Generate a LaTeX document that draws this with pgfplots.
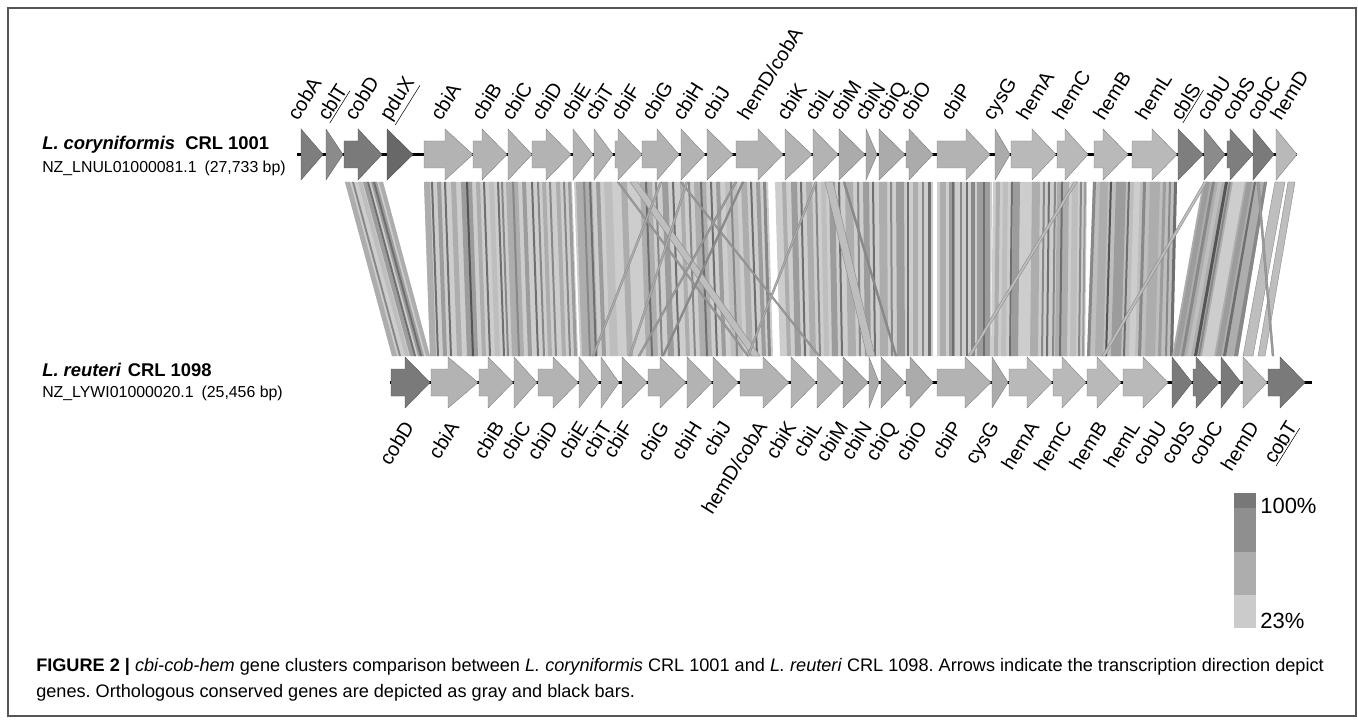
\documentclass[border=0pt]{standalone}
\usepackage{pgfplots}
\pgfplotsset{compat=1.18}
\usepackage{fontspec}
\setmainfont{Liberation Sans}
\frenchspacing

% arrow shades
\definecolor{dA}{HTML}{7E7E7E}
\definecolor{dB}{HTML}{8B8B8B}
\definecolor{dC}{HTML}{7A7A7A}
\definecolor{dD}{HTML}{686868}
\definecolor{lA}{HTML}{B3B3B3}
\definecolor{lB}{HTML}{ABABAB}
\definecolor{lC}{HTML}{B9B9B9}
% similarity band shades
\definecolor{b1}{HTML}{CDCDCD}
\definecolor{b2}{HTML}{BEBEBE}
\definecolor{b3}{HTML}{ADADAD}
\definecolor{b4}{HTML}{9C9C9C}
\definecolor{b5}{HTML}{888888}
\definecolor{b6}{HTML}{6F6F6F}
\definecolor{b7}{HTML}{555555}
% legend shades
\definecolor{s1}{HTML}{787878}
\definecolor{s2}{HTML}{8F8F8F}
\definecolor{s3}{HTML}{ADADAD}
\definecolor{s4}{HTML}{CBCBCB}
\definecolor{fr}{HTML}{555555}

% gene arrows: start, head start, tip, colour
\newcommand{\tgene}[4]{\addplot[fill=#4, draw=#4!70!black, line width=0.3pt] coordinates {(#1,141) (#2,141) (#2,129) (#3,154.5) (#2,180) (#2,168) (#1,168)} --cycle;}
\newcommand{\bgene}[4]{\addplot[fill=#4, draw=#4!70!black, line width=0.3pt] coordinates {(#1,369) (#2,369) (#2,357) (#3,382.5) (#2,408) (#2,396) (#1,396)} --cycle;}
% similarity stripes: top left, top right, bottom left, bottom right, colour
\newcommand{\bd}[5]{\addplot[fill=#5, draw=none] coordinates {(#1,182) (#2,182) (#4,356) (#3,356)} --cycle;}
\newcommand{\bx}[5]{\addplot[fill=#5, draw=b5, line width=0.3pt] coordinates {(#1,182) (#2,182) (#4,356) (#3,356)} --cycle;}
% gene names
\newcommand{\glab}{\fontsize{15}{16}\selectfont}
\newcommand{\tlab}[2]{\node[rotate=58, anchor=base west, inner sep=0pt, font=\glab] at (axis cs:#1,122) {#2};}
\newcommand{\blab}[2]{\node[rotate=58, anchor=base east, inner sep=0pt, font=\glab] at (axis cs:#1,427) {#2};}

\begin{document}
\begin{tikzpicture}
\begin{axis}[
  x=0.75pt, y=0.75pt, y dir=reverse,
  xmin=0, xmax=1358, ymin=0, ymax=720,
  enlargelimits=false, hide axis, clip=false]

\addplot[draw=none] coordinates {(0,0) (1358,720)};
% frame
\addplot[draw=fr, line width=1.5pt] coordinates {(8,8) (1356,8) (1356,716) (8,716)} --cycle;

% ---- similarity band ----
% cobD
\bd{345}{383}{392}{430}{b1}
\bd{345}{350}{392}{397}{b3}
\bd{352}{354}{399}{401}{b5}
\bd{358}{362}{405}{409}{b2}
\bd{363}{367}{410}{414}{b4}
\bd{367}{369}{414}{416}{b6}
\bd{371}{377}{418}{424}{b4}
\bd{373}{375}{420}{422}{b6}
\bd{379}{383}{426}{430}{b3}
% cbiA - hemD/cobA
\bd{424}{572}{430}{578}{b1}
\bd{574}{768}{580}{773}{b1}
\bd{424}{430}{430}{436}{b3}
\bd{431}{433}{437}{439}{b6}
\bd{437}{441}{443}{447}{b4}
\bd{444}{446}{450}{452}{b6}
\bd{451}{456}{457}{462}{b3}
\bd{461}{472}{467}{478}{b4}
\bd{466}{468}{472}{474}{b7}
\bd{476}{480}{482}{486}{b3}
\bd{483}{485}{489}{491}{b6}
\bd{489}{494}{495}{500}{b2}
\bd{497}{499}{503}{505}{b6}
\bd{501}{503}{507}{509}{b5}
\bd{506}{518}{512}{524}{b3}
\bd{512}{514}{518}{520}{b5}
\bd{522}{526}{528}{532}{b4}
\bd{531}{533}{537}{539}{b6}
\bd{537}{539}{543}{545}{b5}
\bd{542}{546}{548}{552}{b3}
\bd{549}{551}{555}{557}{b5}
\bd{556}{560}{562}{566}{b3}
\bd{563}{565}{569}{571}{b5}
\bd{568}{571}{574}{577}{b4}
\bd{576}{592}{582}{598}{b3}
\bd{583}{585}{589}{591}{b5}
\bd{589}{591}{595}{597}{b6}
\bd{596}{600}{602}{606}{b4}
\bd{604}{612}{610}{618}{b2}
\bd{621}{627}{627}{633}{b3}
\bd{640}{652}{646}{658}{b3}
\bd{645}{647}{651}{653}{b6}
\bd{655}{657}{661}{663}{b5}
\bd{662}{668}{668}{674}{b4}
\bd{672}{674}{678}{680}{b6}
\bd{680}{684}{686}{690}{b3}
\bd{688}{690}{694}{696}{b5}
\bd{694}{706}{700}{712}{b3}
\bd{700}{702}{706}{708}{b6}
\bd{710}{712}{716}{718}{b6}
\bd{716}{720}{722}{726}{b4}
\bd{725}{737}{731}{743}{b2}
\bd{730}{732}{736}{738}{b5}
\bd{741}{747}{747}{753}{b3}
\bd{750}{752}{756}{758}{b6}
\bd{756}{760}{762}{766}{b4}
\bd{763}{766}{768}{771}{b5}
% cbiK - cbiO
\bd{775}{933}{780}{933}{b1}
\bd{782}{786}{787}{791}{b3}
\bd{791}{797}{795}{801}{b4}
\bd{800}{802}{804}{806}{b6}
\bd{806}{812}{810}{816}{b3}
\bd{815}{817}{819}{821}{b5}
\bd{821}{826}{824}{829}{b2}
\bd{829}{835}{832}{838}{b4}
\bd{838}{840}{841}{843}{b6}
\bd{845}{853}{848}{856}{b3}
\bd{857}{859}{859}{861}{b5}
\bd{863}{869}{865}{871}{b4}
\bd{872}{874}{874}{876}{b6}
\bd{879}{887}{880}{888}{b3}
\bd{890}{892}{891}{893}{b5}
\bd{896}{904}{897}{905}{b4}
\bd{907}{909}{907}{909}{b6}
\bd{913}{918}{913}{918}{b3}
\bd{922}{924}{922}{924}{b5}
\bd{928}{931}{928}{931}{b6}
% cbiP
\bd{937}{992}{937}{991}{b1}
\bd{940}{946}{940}{946}{b3}
\bd{949}{955}{949}{955}{b4}
\bd{952}{954}{952}{954}{b6}
\bd{960}{962}{960}{962}{b5}
\bd{966}{968}{966}{968}{b6}
\bd{971}{975}{971}{975}{b5}
\bd{977}{990}{977}{990}{b4}
\bd{983}{985}{983}{985}{b6}
% cysG - hemC
\bd{993}{1087}{991}{1085}{b1}
\bd{996}{1000}{994}{998}{b3}
\bd{1003}{1008}{1001}{1006}{b2}
\bd{1011}{1013}{1009}{1011}{b6}
\bd{1013}{1020}{1011}{1018}{b4}
\bd{1032}{1040}{1030}{1038}{b3}
\bd{1043}{1045}{1041}{1043}{b5}
\bd{1048}{1050}{1046}{1048}{b6}
\bd{1054}{1056}{1052}{1054}{b5}
\bd{1057}{1069}{1055}{1067}{b3}
\bd{1061}{1063}{1059}{1061}{b6}
\bd{1072}{1078}{1070}{1076}{b2}
\bd{1080}{1082}{1078}{1080}{b5}
\bd{1084}{1086}{1082}{1084}{b4}
% hemB - hemL
\bd{1093}{1177}{1087}{1173}{b2}
\bd{1093}{1096}{1087}{1090}{b5}
\bd{1100}{1108}{1095}{1103}{b3}
\bd{1110}{1112}{1105}{1107}{b7}
\bd{1116}{1126}{1111}{1121}{b4}
\bd{1128}{1130}{1123}{1125}{b6}
\bd{1134}{1140}{1129}{1135}{b1}
\bd{1143}{1146}{1138}{1141}{b5}
\bd{1150}{1160}{1145}{1155}{b3}
\bd{1163}{1166}{1158}{1161}{b4}
\bd{1169}{1171}{1165}{1167}{b5}
\bd{1174}{1177}{1170}{1173}{b6}
% cobU - cobC
\bd{1203}{1267}{1172}{1238}{b3}
\bd{1205}{1210}{1174}{1179}{b4}
\bd{1212}{1215}{1181}{1184}{b5}
\bd{1218}{1222}{1187}{1191}{b2}
\bd{1225}{1228}{1194}{1197}{b7}
\bd{1229}{1231}{1198}{1200}{b5}
\bd{1233}{1245}{1202}{1214}{b1}
\bd{1247}{1252}{1216}{1221}{b4}
\bd{1254}{1256}{1223}{1226}{b6}
\bd{1258}{1262}{1228}{1232}{b3}
\bd{1264}{1267}{1234}{1238}{b5}
% hemD
\bx{1275}{1285}{1243}{1253}{b2}
\bx{1288}{1295}{1258}{1265}{b2}
% rearranged matches
\bx{617}{619}{747}{749}{b4}
\bx{630}{638}{752}{760}{b2}
\bx{680}{682}{818}{820}{b4}
\bx{742}{744}{662}{664}{b5}
\bx{735}{737}{638}{640}{b4}
\bx{686}{688}{629}{631}{b3}
\bx{660}{662}{592}{594}{b3}
\bx{815}{817}{747}{749}{b3}
\bx{825}{833}{867}{875}{b2}
\bx{843}{845}{895}{897}{b5}
\bx{1074}{1077}{968}{971}{b2}
\bx{1204}{1207}{1102}{1105}{b2}
\bx{1257}{1259}{1272}{1274}{b4}

% ---- backbones ----
\addplot[black, line width=1.6pt] coordinates {(297,154.5) (1297,154.5)};
\addplot[black, line width=1.6pt] coordinates {(390,382.5) (1312,382.5)};

% ---- L. coryniformis CRL 1001 ----
\tgene{301}{301}{323}{dA}
\tgene{326}{326}{343}{dB}
\tgene{344}{358}{382}{dC}
\tgene{387}{387}{413}{dD}
\tgene{424}{445}{473}{lA}
\tgene{473}{482}{507}{lA}
\tgene{508}{508}{532}{lA}
\tgene{532}{546}{571}{lA}
\tgene{573}{573}{593}{lA}
\tgene{594}{594}{613}{lA}
\tgene{615}{618}{642}{lA}
\tgene{642}{657}{679}{lA}
\tgene{681}{681}{705}{lA}
\tgene{707}{707}{733}{lA}
\tgene{736}{758}{783}{lA}
\tgene{785}{785}{812}{lA}
\tgene{813}{813}{838}{lA}
\tgene{839}{839}{865}{lB}
\tgene{866}{866}{877}{lB}
\tgene{879}{879}{905}{lB}
\tgene{906}{909}{933}{lB}
\tgene{937}{966}{990}{lA}
\tgene{995}{995}{1010}{lB}
\tgene{1011}{1032}{1056}{lC}
\tgene{1057}{1065}{1088}{lC}
\tgene{1094}{1103}{1128}{lC}
\tgene{1132}{1152}{1177}{lC}
\tgene{1178}{1178}{1203}{dA}
\tgene{1204}{1204}{1225}{dB}
\tgene{1227}{1230}{1253}{dA}
\tgene{1253}{1253}{1274}{dC}
\tgene{1276}{1276}{1297}{lC}

% ---- L. reuteri CRL 1098 ----
\bgene{391}{405}{430}{dC}
\bgene{431}{448}{478}{lA}
\bgene{479}{488}{513}{lA}
\bgene{514}{514}{537}{lA}
\bgene{538}{553}{578}{lA}
\bgene{579}{579}{599}{lA}
\bgene{601}{601}{619}{lA}
\bgene{622}{622}{647}{lA}
\bgene{648}{660}{686}{lA}
\bgene{687}{687}{712}{lA}
\bgene{713}{713}{738}{lA}
\bgene{740}{763}{789}{lA}
\bgene{791}{791}{816}{lA}
\bgene{817}{817}{842}{lA}
\bgene{843}{843}{868}{lB}
\bgene{869}{869}{879}{lB}
\bgene{881}{881}{905}{lB}
\bgene{906}{910}{933}{lB}
\bgene{937}{965}{991}{lA}
\bgene{992}{992}{1008}{lB}
\bgene{1009}{1027}{1052}{lC}
\bgene{1053}{1062}{1086}{lC}
\bgene{1087}{1097}{1121}{lC}
\bgene{1123}{1143}{1168}{lC}
\bgene{1172}{1172}{1192}{dC}
\bgene{1193}{1196}{1219}{dA}
\bgene{1221}{1221}{1241}{dC}
\bgene{1243}{1243}{1267}{lC}
\bgene{1268}{1280}{1305}{dC}

% ---- gene names ----
\tlab{298}{cobA}
\tlab{328}{\underline{cblT}}
\tlab{355}{cobD}
\tlab{390}{\underline{pduX}}
\tlab{441}{cbiA}
\tlab{482}{cbiB}
\tlab{512}{cbiC}
\tlab{542}{cbiD}
\tlab{571}{cbiE}
\tlab{595}{cbiT}
\tlab{621}{cbiF}
\tlab{652}{cbiG}
\tlab{683}{cbiH}
\tlab{712}{cbiJ}
\tlab{748}{hemD/cobA}
\tlab{787}{cbiK}
\tlab{815}{cbiL}
\tlab{840}{cbiM}
\tlab{865}{cbiN}
\tlab{886}{cbiQ}
\tlab{910}{cbiO}
\tlab{951}{cbiP}
\tlab{993}{cysG}
\tlab{1027}{hemA}
\tlab{1063}{hemC}
\tlab{1104}{hemB}
\tlab{1146}{hemL}
\tlab{1181}{\underline{cblS}}
\tlab{1207}{cobU}
\tlab{1232}{cobS}
\tlab{1257}{cobC}
\tlab{1281}{hemD}

\blab{415}{cobD}
\blab{460}{cbiA}
\blab{505}{cbiB}
\blab{532}{cbiC}
\blab{559}{cbiD}
\blab{589}{cbiE}
\blab{613}{cbiT}
\blab{634}{cbiF}
\blab{670}{cbiG}
\blab{703}{cbiH}
\blab{732}{cbiJ}
\blab{768}{hemD/cobA}
\blab{797}{cbiK}
\blab{823}{cbiL}
\blab{849}{cbiM}
\blab{873}{cbiN}
\blab{898}{cbiQ}
\blab{928}{cbiO}
\blab{963}{cbiP}
\blab{1000}{cysG}
\blab{1040}{hemA}
\blab{1073}{hemC}
\blab{1108}{hemB}
\blab{1141}{hemL}
\blab{1168}{cobU}
\blab{1196}{cobS}
\blab{1224}{cobC}
\blab{1260}{hemD}
\blab{1298}{\underline{cobT}}

% ---- strain labels ----
\node[anchor=base west, inner sep=0pt, font=\fontsize{13.8}{15}\selectfont\bfseries] at (axis cs:42,150) {\textit{L. coryniformis}\hspace{0.55em}CRL 1001};
\node[anchor=base west, inner sep=0pt, font=\fontsize{11.9}{13}\selectfont] at (axis cs:42,173) {NZ\_LNUL01000081.1\hspace{0.5em}(27,733 bp)};
\node[anchor=base west, inner sep=0pt, font=\fontsize{13.8}{15}\selectfont\bfseries] at (axis cs:42,376) {\textit{L. reuteri}\hspace{0.35em}CRL 1098};
\node[anchor=base west, inner sep=0pt, font=\fontsize{11.9}{13}\selectfont] at (axis cs:42,397) {NZ\_LYWI01000020.1\hspace{0.5em}(25,456 bp)};

% ---- identity scale ----
\addplot[fill=s1, draw=none] coordinates {(1234,493) (1256,493) (1256,508) (1234,508)} --cycle;
\addplot[fill=s2, draw=none] coordinates {(1234,508) (1256,508) (1256,552) (1234,552)} --cycle;
\addplot[fill=s3, draw=none] coordinates {(1234,552) (1256,552) (1256,595) (1234,595)} --cycle;
\addplot[fill=s4, draw=none] coordinates {(1234,595) (1256,595) (1256,628) (1234,628)} --cycle;
\node[anchor=base west, inner sep=0pt, font=\fontsize{16.5}{18}\selectfont] at (axis cs:1260,513) {100\%};
\node[anchor=base west, inner sep=0pt, font=\fontsize{16.5}{18}\selectfont] at (axis cs:1260,628) {23\%};

% ---- caption ----
\node[anchor=base west, inner sep=0pt, font=\fontsize{13.6}{14}\selectfont] at (axis cs:36,671) {\textbf{FIGURE 2 |} \textit{cbi-cob-hem} gene clusters comparison between \textit{L. coryniformis} CRL 1001 and \textit{L. reuteri} CRL 1098. Arrows indicate the transcription direction depict};
\node[anchor=base west, inner sep=0pt, font=\fontsize{13.6}{14}\selectfont] at (axis cs:36,697) {genes. Orthologous conserved genes are depicted as gray and black bars.};
\end{axis}
\end{tikzpicture}
\end{document}
